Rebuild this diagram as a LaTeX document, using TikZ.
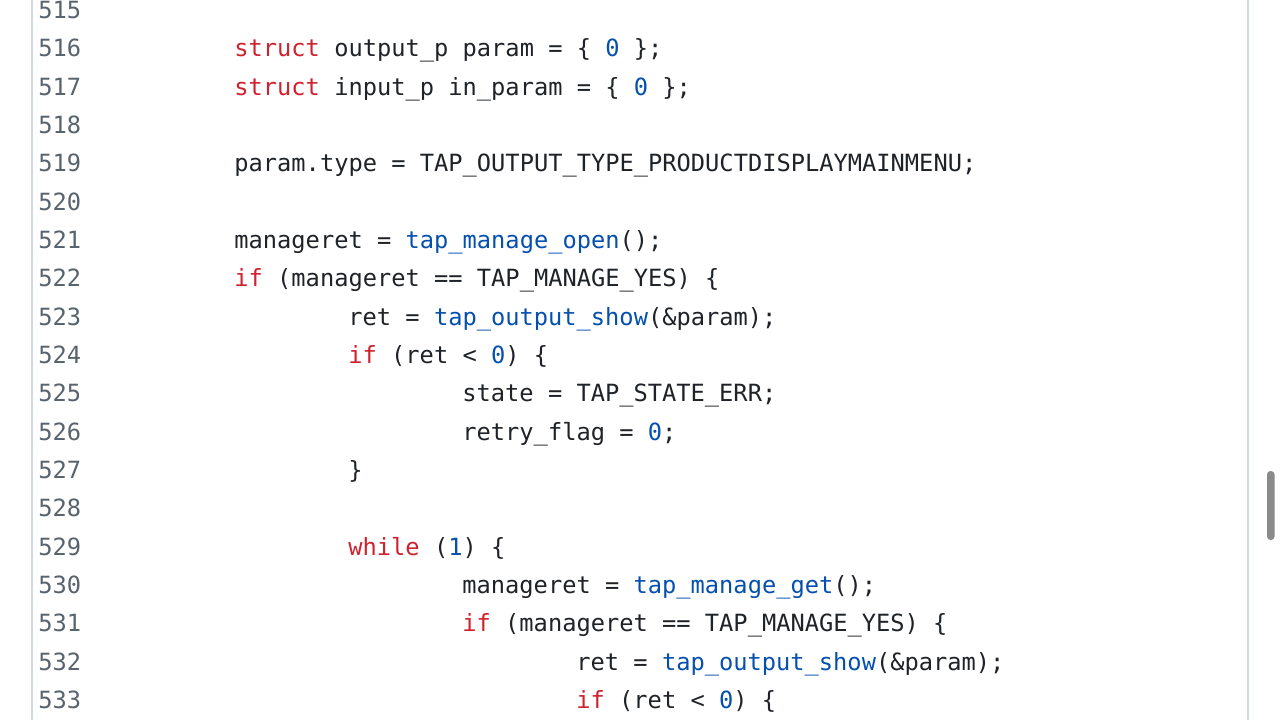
\documentclass[tikz,border=0pt]{standalone}
\usepackage{fontspec}
\setmonofont{DejaVu Sans Mono}
\definecolor{codetext}{HTML}{1F2328}
\definecolor{lnum}{HTML}{59636E}
\definecolor{kwred}{HTML}{CF222E}
\definecolor{fnblue}{HTML}{0550AE}
\definecolor{rulegray}{HTML}{D1D9E0}
\definecolor{thumbgray}{HTML}{8A8A8A}
\newcommand{\kw}[1]{\textcolor{kwred}{#1}}
\newcommand{\fn}[1]{\textcolor{fnblue}{#1}}
\newcommand{\nm}[1]{\textcolor{fnblue}{#1}}
\tikzset{
  lineno/.style={anchor=base west,inner sep=0pt,text=lnum,font=\ttfamily\fontsize{11.85}{14}\selectfont},
  codeline/.style={anchor=base west,inner sep=0pt,text=codetext,font=\ttfamily\fontsize{11.85}{14}\selectfont},
}
\begin{document}
\begin{tikzpicture}[x=0.5pt,y=-0.5pt]
    \fill[white] (0,0) rectangle (1280,720);
    \useasboundingbox (0,0) rectangle (1280,720);
    % gutter and pane borders
    \draw[rulegray,line width=0.75pt] (32,0) -- (32,720);
    \draw[rulegray,line width=0.75pt] (1248,0) -- (1248,720);
    \fill[thumbgray,rounded corners=1.75pt] (1267,471) rectangle (1274.5,540);
    % line numbers
    \node[lineno] (n515) at (38,18.5) {515};
    \node[lineno] (n516) at (38,56.8) {516};
    \node[lineno] (n517) at (38,95.2) {517};
    \node[lineno] (n518) at (38,133.5) {518};
    \node[lineno] (n519) at (38,171.8) {519};
    \node[lineno] (n520) at (38,210.2) {520};
    \node[lineno] (n521) at (38,248.5) {521};
    \node[lineno] (n522) at (38,286.8) {522};
    \node[lineno] (n523) at (38,325.2) {523};
    \node[lineno] (n524) at (38,363.5) {524};
    \node[lineno] (n525) at (38,401.8) {525};
    \node[lineno] (n526) at (38,440.2) {526};
    \node[lineno] (n527) at (38,478.5) {527};
    \node[lineno] (n528) at (38,516.8) {528};
    \node[lineno] (n529) at (38,555.2) {529};
    \node[lineno] (n530) at (38,593.5) {530};
    \node[lineno] (n531) at (38,631.8) {531};
    \node[lineno] (n532) at (38,670.2) {532};
    \node[lineno] (n533) at (38,708.5) {533};
    % source lines
    \node[codeline] (c516) at (234,56.8) {\kw{struct} output\_p param = \{ \nm{0} \};};
    \node[codeline] (c517) at (234,95.2) {\kw{struct} input\_p in\_param = \{ \nm{0} \};};
    \node[codeline] (c519) at (234,171.8) {param.type = TAP\_OUTPUT\_TYPE\_PRODUCTDISPLAYMAINMENU;};
    \node[codeline] (c521) at (234,248.5) {manageret = \fn{tap\_manage\_open}();};
    \node[codeline] (c522) at (234,286.8) {\kw{if} (manageret == TAP\_MANAGE\_YES) \{};
    \node[codeline] (c523) at (348,325.2) {ret = \fn{tap\_output\_show}(\&param);};
    \node[codeline] (c524) at (348,363.5) {\kw{if} (ret < \nm{0}) \{};
    \node[codeline] (c525) at (462,401.8) {state = TAP\_STATE\_ERR;};
    \node[codeline] (c526) at (462,440.2) {retry\_flag = \nm{0};};
    \node[codeline] (c527) at (348,478.5) {\}};
    \node[codeline] (c529) at (348,555.2) {\kw{while} (\nm{1}) \{};
    \node[codeline] (c530) at (462,593.5) {manageret = \fn{tap\_manage\_get}();};
    \node[codeline] (c531) at (462,631.8) {\kw{if} (manageret == TAP\_MANAGE\_YES) \{};
    \node[codeline] (c532) at (576,670.2) {ret = \fn{tap\_output\_show}(\&param);};
    \node[codeline] (c533) at (576,708.5) {\kw{if} (ret < \nm{0}) \{};
\end{tikzpicture}
\end{document}
